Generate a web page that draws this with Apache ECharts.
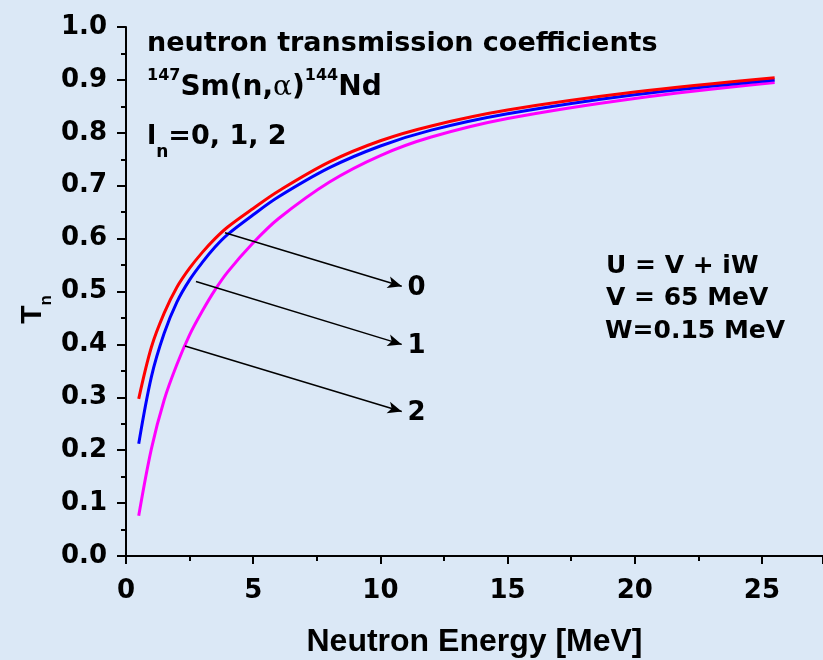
<!DOCTYPE html>
<html>
<head>
<meta charset="utf-8">
<script src="https://cdn.jsdelivr.net/npm/echarts@6/dist/echarts.min.js"></script>
<style>
html,body{margin:0;padding:0;background:#dbe8f6;}
#chart{width:823px;height:660px;}
</style>
</head>
<body>
<div id="chart"></div>
<script>
// Neutron energy [MeV]
const energy = [0.5, 1, 1.5, 2, 2.5, 3, 3.5, 4, 5, 6, 8, 10, 12, 15, 20, 25.5];
// transmission coefficients for l = 0, 1, 2
const tl0 = [0.297, 0.395, 0.459, 0.508, 0.544, 0.574, 0.600, 0.622, 0.657, 0.690, 0.745, 0.785, 0.813, 0.843, 0.877, 0.904];
const tl1 = [0.212, 0.339, 0.421, 0.480, 0.522, 0.555, 0.584, 0.608, 0.645, 0.679, 0.734, 0.775, 0.805, 0.836, 0.872, 0.900];
const tl2 = [0.076, 0.203, 0.295, 0.362, 0.418, 0.463, 0.503, 0.537, 0.592, 0.638, 0.707, 0.757, 0.792, 0.827, 0.865, 0.895];
// annotation arrows (data coordinates)
const arrowLabels = ['0', '1', '2'];
const arrowStartX = [3.89, 2.75, 2.32];
const arrowStartY = [0.611, 0.519, 0.397];
const arrowEndX = [10.84, 10.84, 10.84];
const arrowEndY = [0.510, 0.400, 0.273];
const xTicks = [0, 5, 10, 15, 20, 25];
const yTicks = [0.0, 0.1, 0.2, 0.3, 0.4, 0.5, 0.6, 0.7, 0.8, 0.9, 1.0];

const chart = echarts.init(document.getElementById('chart'), null, {renderer: 'canvas'});
const tickFont = {fontFamily: 'DejaVu Sans', fontWeight: 'bold', fontSize: 26, color: '#000'};
const toPairs = arr => energy.map((e, i) => [e, arr[i]]);

const arrowData = arrowLabels.map((lab, i) => [
  {coord: [arrowStartX[i], arrowStartY[i]]},
  {coord: [arrowEndX[i], arrowEndY[i]], label: {formatter: lab}}
]);

const option = {
  backgroundColor: '#dbe8f6',
  animation: false,
  grid: {left: 126, top: 27, right: 0, bottom: 104, containLabel: false, outerBoundsMode: 'none'},
  xAxis: {
    type: 'value', min: 0, max: 27.4, interval: 5,
    name: 'Neutron Energy [MeV]', nameLocation: 'middle', nameGap: 70,
    nameTextStyle: {fontFamily: 'Liberation Sans', fontWeight: 'bold', fontSize: 32, color: '#000'},
    axisLine: {show: true, lineStyle: {color: '#000', width: 2}},
    axisTick: {show: true, inside: false, length: 8, lineStyle: {color: '#000', width: 2}},
    minorTick: {show: true, splitNumber: 2, length: 5, lineStyle: {color: '#000', width: 2}},
    splitLine: {show: false},
    axisLabel: Object.assign({margin: 22, showMaxLabel: false,
      formatter: v => xTicks.includes(v) ? String(v) : ''}, tickFont)
  },
  yAxis: {
    type: 'value', min: 0, max: 1.0, interval: 0.1,
    name: '{a|T}{b|n}', nameLocation: 'middle', nameRotate: 90, nameGap: 71,
    nameMoveOverlap: false,
    nameTextStyle: {
      padding: [0, 36, 0, 0],
      rich: {
        a: {fontFamily: 'Liberation Sans', fontWeight: 'bold', fontSize: 30, color: '#000', lineHeight: 44},
        b: {fontFamily: 'Liberation Sans', fontWeight: 'bold', fontSize: 17, color: '#000', lineHeight: 17, verticalAlign: 'bottom'}
      }
    },
    axisLine: {show: true, lineStyle: {color: '#000', width: 2}},
    axisTick: {show: true, inside: false, length: 9, lineStyle: {color: '#000', width: 2}},
    minorTick: {show: true, splitNumber: 2, length: 5, lineStyle: {color: '#000', width: 2}},
    splitLine: {show: false},
    axisLabel: Object.assign({margin: 19, formatter: v => {
      const t = yTicks.find(y => Math.abs(y - v) < 1e-9);
      return t === undefined ? '' : t.toFixed(1);
    }}, tickFont)
  },
  series: [
    {
      name: 'l=2', type: 'line', data: toPairs(tl2), smooth: 0.35, showSymbol: false,
      lineStyle: {color: '#ff00ff', width: 3}, z: 2
    },
    {
      name: 'l=1', type: 'line', data: toPairs(tl1), smooth: 0.35, showSymbol: false,
      lineStyle: {color: '#0000ff', width: 3}, z: 3
    },
    {
      name: 'l=0', type: 'line', data: toPairs(tl0), smooth: 0.35, showSymbol: false,
      lineStyle: {color: '#ff0000', width: 3}, z: 4,
      markLine: {
        silent: true, animation: false,
        symbol: ['none', 'arrow'], symbolSize: [9, 14],
        lineStyle: {color: '#000', width: 1.5, type: 'solid'},
        label: {show: true, position: 'end', distance: 6,
          fontFamily: 'DejaVu Sans', fontWeight: 'bold', fontSize: 26, color: '#000'},
        data: arrowData
      }
    }
  ],
  graphic: [
    {type: 'text', z: 10, style: {x: 147, y: 44, text: 'neutron transmission coefficients',
      font: 'bold 27px "DejaVu Sans"', fill: '#000', verticalAlign: 'middle', align: 'left'}},
    {type: 'text', z: 10, style: {x: 147, y: 88,
      text: '{s|147}{m|Sm(n,}{g|α}{m|)}{s|144}{m|Nd}',
      verticalAlign: 'middle', align: 'left',
      rich: {
        m: {fontFamily: 'DejaVu Sans', fontWeight: 'bold', fontSize: 28, fill: '#000', lineHeight: 40},
        g: {fontFamily: 'DejaVu Serif', fontWeight: 'normal', fontSize: 28, fill: '#000', lineHeight: 40},
        s: {fontFamily: 'DejaVu Sans', fontWeight: 'bold', fontSize: 16, fill: '#000', lineHeight: 16, verticalAlign: 'top'}
      }}},
    {type: 'text', z: 10, style: {x: 147, y: 137,
      text: '{m|l}{s|n}{m|=0, 1, 2}',
      verticalAlign: 'middle', align: 'left',
      rich: {
        m: {fontFamily: 'DejaVu Sans', fontWeight: 'bold', fontSize: 27, fill: '#000', lineHeight: 48},
        s: {fontFamily: 'DejaVu Sans', fontWeight: 'bold', fontSize: 17, fill: '#000', lineHeight: 17, verticalAlign: 'bottom'}
      }}},
    {type: 'text', z: 10, style: {x: 606, y: 266, text: 'U = V + iW',
      font: 'bold 25px "DejaVu Sans"', fill: '#000', verticalAlign: 'middle', align: 'left'}},
    {type: 'text', z: 10, style: {x: 606, y: 298, text: 'V = 65 MeV',
      font: 'bold 25px "DejaVu Sans"', fill: '#000', verticalAlign: 'middle', align: 'left'}},
    {type: 'text', z: 10, style: {x: 605, y: 331, text: 'W=0.15 MeV',
      font: 'bold 25px "DejaVu Sans"', fill: '#000', verticalAlign: 'middle', align: 'left'}}
  ]
};
chart.setOption(option);
</script>
</body>
</html>
